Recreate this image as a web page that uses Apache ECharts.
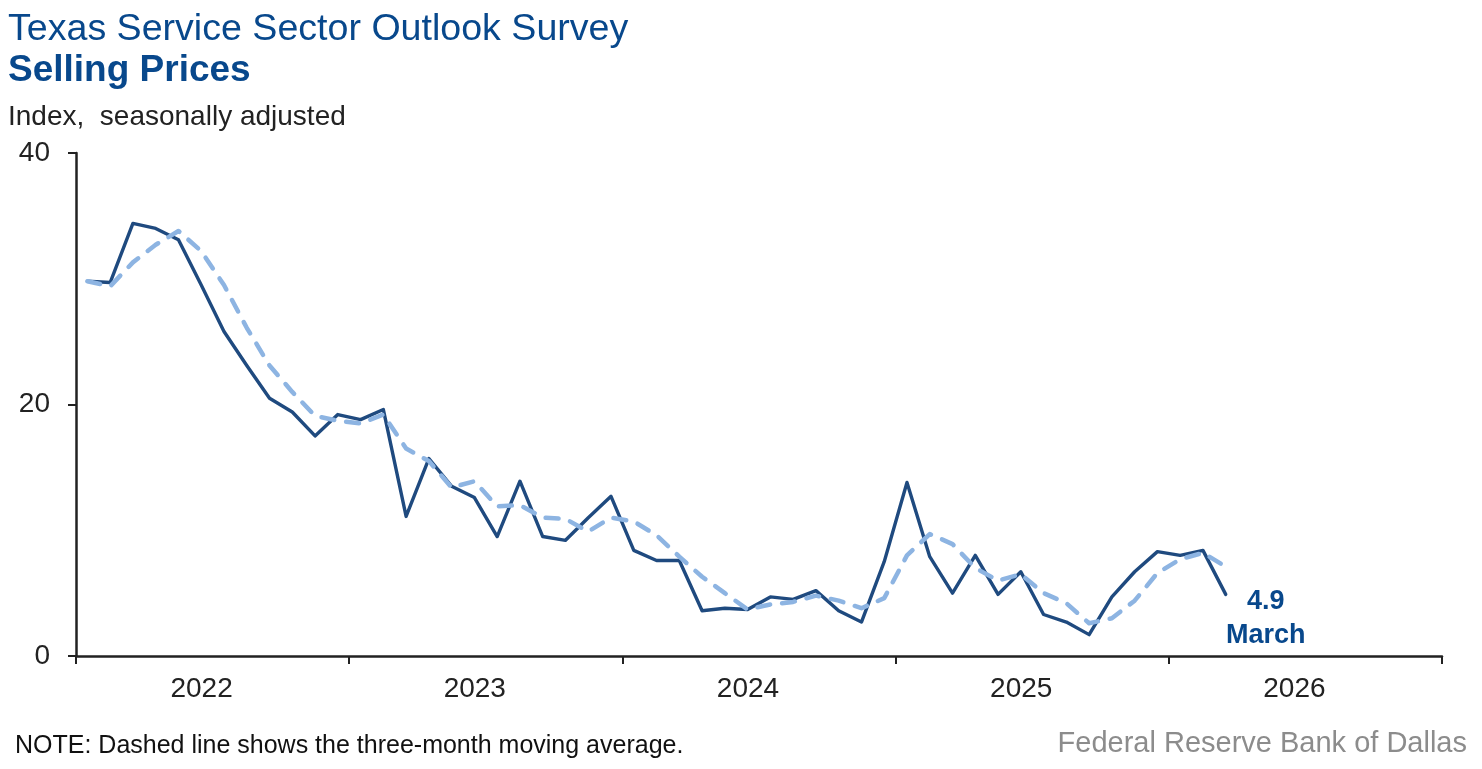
<!DOCTYPE html>
<html>
<head>
<meta charset="utf-8">
<script src="https://cdn.jsdelivr.net/npm/echarts@6/dist/echarts.min.js"></script>
<style>
html,body{margin:0;padding:0;background:#fff;}
#chart{width:1482px;height:769px;}
</style>
</head>
<body>
<div id="chart"></div>
<script>
// ---- Data ----
const months = [
  '2022-01','2022-02','2022-03','2022-04','2022-05','2022-06','2022-07','2022-08','2022-09','2022-10','2022-11','2022-12',
  '2023-01','2023-02','2023-03','2023-04','2023-05','2023-06','2023-07','2023-08','2023-09','2023-10','2023-11','2023-12',
  '2024-01','2024-02','2024-03','2024-04','2024-05','2024-06','2024-07','2024-08','2024-09','2024-10','2024-11','2024-12',
  '2025-01','2025-02','2025-03','2025-04','2025-05','2025-06','2025-07','2025-08','2025-09','2025-10','2025-11','2025-12',
  '2026-01','2026-02','2026-03'
];
const sellingPrices = [
  29.8, 29.7, 34.4, 34.0, 33.1, 29.5, 25.8, 23.1, 20.5, 19.4, 17.5, 19.2,
  18.8, 19.6, 11.1, 15.7, 13.5, 12.6, 9.5, 13.9, 9.5, 9.2, 11.0, 12.7,
  8.4, 7.6, 7.6, 3.6, 3.8, 3.7, 4.7, 4.5, 5.2, 3.6, 2.7, 7.5,
  13.8, 7.9, 5.0, 8.0, 4.9, 6.7, 3.3, 2.7, 1.7, 4.7, 6.7, 8.3,
  8.0, 8.4, 4.9
];
const movingAverage = [
  29.8, 29.4, 31.3, 32.7, 33.8, 32.2, 29.5, 26.1, 23.1, 21.0, 19.1, 18.7,
  18.5, 19.2, 16.5, 15.5, 13.4, 13.9, 11.9, 12.0, 11.0, 10.9, 9.9, 11.0,
  10.7, 9.6, 7.9, 6.3, 5.0, 3.7, 4.1, 4.3, 4.8, 4.4, 3.8, 4.6,
  8.0, 9.7, 8.9, 7.0, 6.0, 6.5, 5.0, 4.2, 2.6, 3.0, 4.4, 6.6,
  7.7, 8.2, 7.1
];
const yearLabels = ['2022', '2023', '2024', '2025', '2026'];
const yTicks = [0, 20, 40];
const latestMonthName = 'March';

// ---- Helpers ----
const baseYear = 2022;
function monthPos(s) {
  const [y, m] = s.split('-').map(Number);
  return (y - baseYear) * 12 + (m - 1) + 0.5;
}
const mainData = months.map((m, i) => [monthPos(m), sellingPrices[i]]);
const maData = months.map((m, i) => [monthPos(m), movingAverage[i]]);

const BLUE = '#08488c';
const NAVY = '#1f4a7f';
const LIGHT = '#8db4e2';
const AXIS = '#222222';
const FONT = '"Liberation Sans", Arial, sans-serif';

const chart = echarts.init(document.getElementById('chart'), null, {renderer: 'canvas'});
chart.setOption({
  animation: false,
  backgroundColor: '#ffffff',
  textStyle: {fontFamily: FONT},
  grid: {left: 76, right: 40, top: 153, bottom: 113, containLabel: false},
  xAxis: [
    {
      type: 'value', min: 0, max: 60, interval: 12, position: 'bottom',
      axisLine: {show: true, lineStyle: {color: AXIS, width: 2.5}},
      axisTick: {show: true, length: 8, lineStyle: {color: AXIS, width: 2}},
      axisLabel: {show: false},
      splitLine: {show: false}
    },
    {
      type: 'value', min: 0, max: 60, interval: 6, position: 'bottom',
      axisLine: {show: false}, axisTick: {show: false}, splitLine: {show: false},
      axisLabel: {
        show: true, margin: 19, fontSize: 28, color: AXIS, fontFamily: FONT,
        padding: [0, 22, 0, 0],
        formatter: v => (v % 12 === 6 ? (yearLabels[(v - 6) / 12] || '') : '')
      }
    }
  ],
  yAxis: {
    type: 'value', min: yTicks[0], max: yTicks[yTicks.length - 1], interval: 20,
    axisLine: {show: true, lineStyle: {color: AXIS, width: 2.5}},
    axisTick: {show: true, length: 8, lineStyle: {color: AXIS, width: 2}},
    axisLabel: {show: true, margin: 26, fontSize: 28, color: AXIS, fontFamily: FONT},
    splitLine: {show: false}
  },
  series: [
    {
      name: 'Selling Prices', type: 'line', xAxisIndex: 0, data: mainData,
      showSymbol: false, symbol: 'none',
      lineStyle: {color: NAVY, width: 3.4, join: 'round', cap: 'round'},
      z: 2,
      endLabel: {
        show: true, fontFamily: FONT, fontWeight: 'bold', fontSize: 27,
        color: BLUE, lineHeight: 34, align: 'center', distance: 5, offset: [35, 24],
        formatter: () => sellingPrices[sellingPrices.length - 1].toFixed(1) + '\n' + latestMonthName
      }
    },
    {
      name: 'Three-month moving average', type: 'line', xAxisIndex: 0, data: maData,
      showSymbol: false, symbol: 'none', smooth: false,
      lineStyle: {color: LIGHT, width: 4.5, type: [13, 12], cap: 'round', join: 'round'},
      z: 3
    }
  ],
  graphic: [
    {type: 'text', left: 8, top: 11, style: {text: 'Texas Service Sector Outlook Survey', font: '37.6px ' + FONT, fill: BLUE}},
    {type: 'text', left: 8, top: 52, style: {text: 'Selling Prices', font: 'bold 37px ' + FONT, fill: BLUE}},
    {type: 'text', left: 8, top: 103, style: {text: 'Index,  seasonally adjusted', font: '28px ' + FONT, fill: AXIS}},
    {type: 'text', left: 15, top: 734, style: {text: 'NOTE: Dashed line shows the three-month moving average.', font: '25px ' + FONT, fill: '#111'}},
    {type: 'text', right: 15, top: 729, style: {text: 'Federal Reserve Bank of Dallas', font: '29px ' + FONT, fill: '#8c8c8c'}}
  ]
});
</script>
</body>
</html>
